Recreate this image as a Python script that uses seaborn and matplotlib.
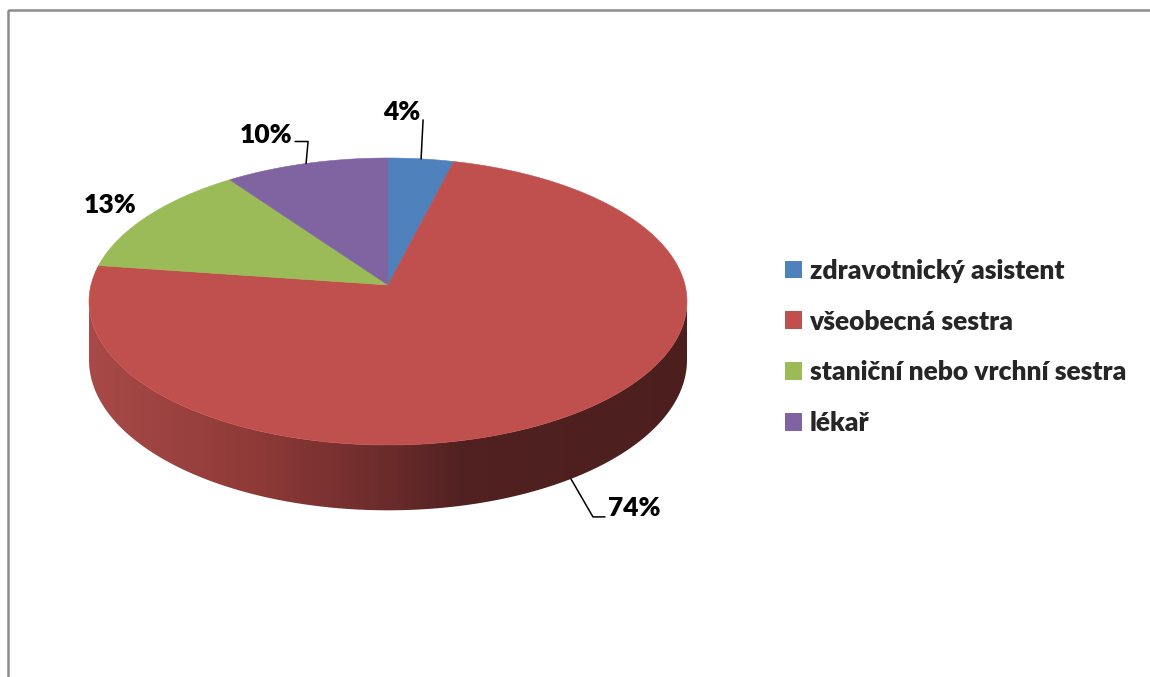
import numpy as np
import matplotlib
matplotlib.use("Agg")
import matplotlib.pyplot as plt
import seaborn as sns
from matplotlib.patches import Patch, Polygon, Rectangle
from matplotlib.colors import LinearSegmentedColormap

# Data
categories = ["zdravotnický asistent", "všeobecná sestra",
              "staniční nebo vrchní sestra", "lékař"]
shares = [4, 74, 13, 10]
colors = ["#4F81BD", "#C0504D", "#9BBB59", "#8064A2"]

sns.set_theme(style="white")
plt.rcParams["font.family"] = ["Lato", "DejaVu Sans"]

W, H = 1150, 677
fig = plt.figure(figsize=(W / 100, H / 100), dpi=100)
ax = fig.add_axes([0, 0, 1, 1])
ax.set_xlim(0, W)
ax.set_ylim(H, 0)
ax.axis("off")

# chart frame
ax.add_patch(Rectangle((8, 10), 1300, 900, fill=False, edgecolor="#8c8c8c",
                       lw=1.8, zorder=0))

# tilted disk seen in perspective
CX, CY = 388, 285
RX, RY = 297, 141.6
K = 0.115
DEPTH = 57.8


def project(theta, r=1.0, h=0.0):
    u = r * np.sin(theta)
    w = -r * np.cos(theta)
    d = 1 - K * w
    return CX + RX * u / d, CY + (RY * w + DEPTH * h) / d


vals = np.array(shares, dtype=float)
bounds = np.concatenate([[0], np.cumsum(vals) / vals.sum()]) * 2 * np.pi

# visible rim (front half, between the silhouette tangents)
t1 = np.arccos(-K)
t2 = 2 * np.pi - t1
tt = np.linspace(t1, t2, 300)
xt, yt = project(tt)
xb, yb = project(tt[::-1], h=1.0)
rim = Polygon(np.column_stack([np.r_[xt, xb], np.r_[yt, yb]]), closed=True,
              facecolor="none", edgecolor="none", transform=ax.transData)
ax.add_patch(rim)
shade = LinearSegmentedColormap.from_list(
    "rim", [(0.0, (0.66, 0.29, 0.28)), (0.27, (0.56, 0.23, 0.22)),
            (0.5, (0.42, 0.17, 0.17)), (0.62, (0.32, 0.13, 0.13)),
            (1.0, (0.30, 0.12, 0.12))])
grad = np.linspace(0, 1, 512).reshape(1, -1)
im = ax.imshow(grad, cmap=shade, extent=(88, 690, 530, 280), aspect="auto",
               zorder=1, interpolation="bilinear")
im.set_clip_path(rim)

# top face wedges
for i, c in enumerate(colors):
    a0, a1 = bounds[i], bounds[i + 1]
    th = np.linspace(a0, a1, max(int((a1 - a0) * 80), 4))
    px, py = project(th)
    ax.fill(np.r_[CX, px], np.r_[CY, py], facecolor=c, edgecolor=c, lw=0.4,
            zorder=2)

# data labels with leader lines
label_offsets = [(-19.5, -47), (63, 29), (-38, -11), (-40, -28.5)]
leaders = [[(0, 0), (2, -39)],
           [(0, 0), (22, 38), (34, 38)],
           None,
           [(0, 0), (2, -22), (-11, -22)]]
for i, v in enumerate(shares):
    mid = (bounds[i] + bounds[i + 1]) / 2
    on_rim = t1 <= mid <= t2
    axp, ayp = project(mid, h=1.0 if on_rim else 0.0)
    dx, dy = label_offsets[i]
    ax.text(axp + dx, ayp + dy, f"{v}%", ha="center", va="center",
            fontsize=19, fontweight="heavy", color="black", zorder=4)
    if leaders[i] is not None:
        lx = [axp + p[0] for p in leaders[i]]
        ly = [ayp + p[1] for p in leaders[i]]
        ax.plot(lx, ly, color="black", lw=1.1, zorder=3)

handles = [Patch(facecolor=c, edgecolor="none") for c in colors]
fig.legend(handles, categories, loc="center left",
           bbox_to_anchor=(785 / W, 1 - 347 / H), bbox_transform=fig.transFigure,
           frameon=False, prop={"weight": "heavy", "size": 19},
           handlelength=0.65, handleheight=0.65, handletextpad=0.28,
           labelspacing=1.02, borderpad=0, borderaxespad=0)

fig.savefig("out.png", dpi=100)
